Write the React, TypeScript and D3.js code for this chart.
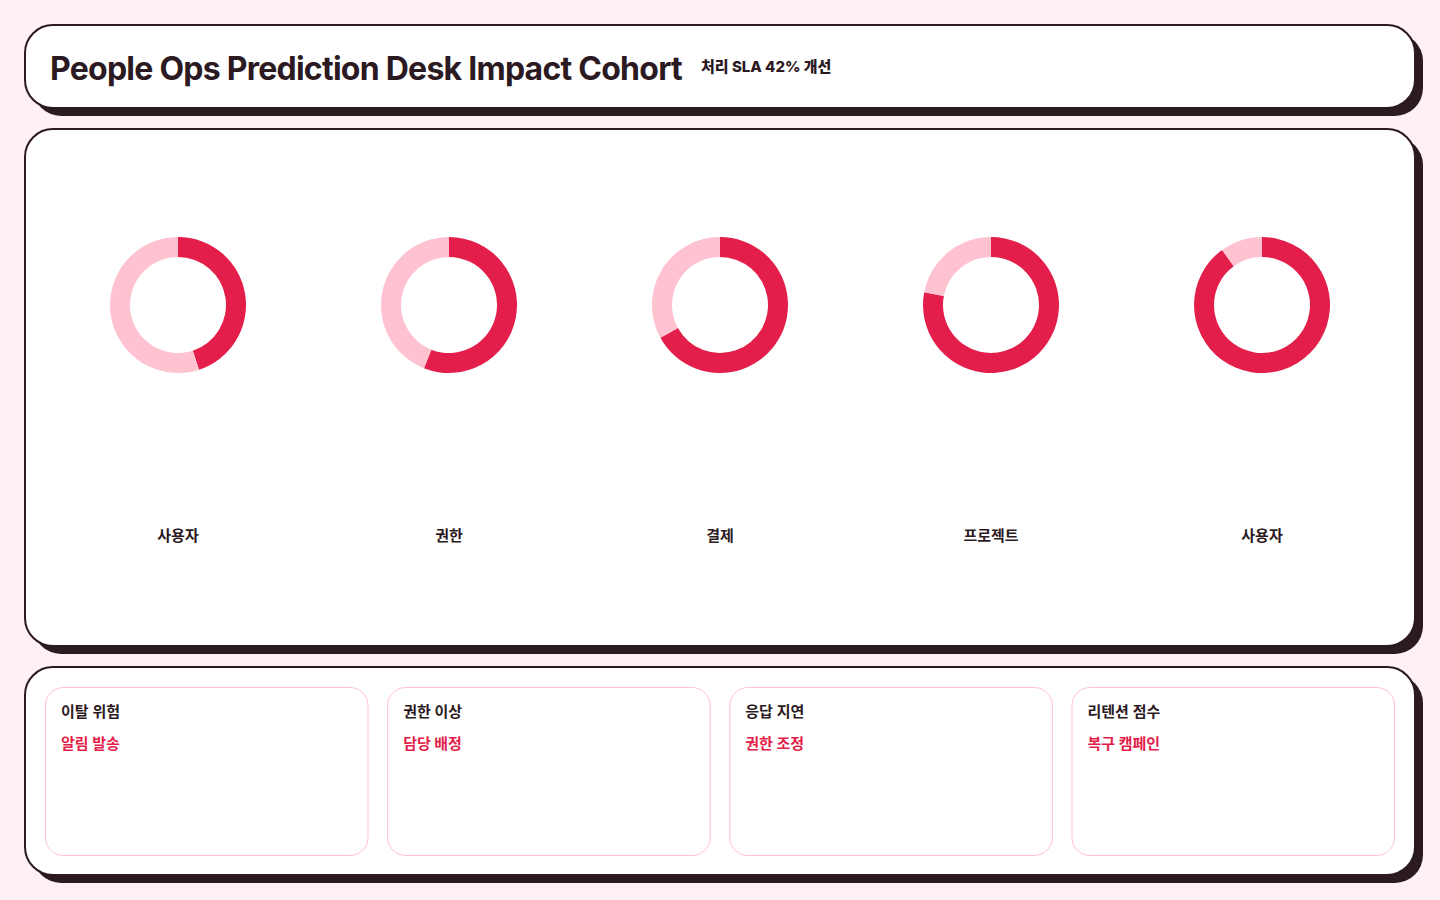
import React from "react";
import * as d3 from "d3";

const title = "People Ops Prediction Desk Impact Cohort";
const subtitle = "처리 SLA 42% 개선";
const donutLabels = ["사용자", "권한", "결제", "프로젝트", "사용자"];
const donutValues = [45, 56, 67, 78, 90];
const cardTitles = ["이탈 위험", "권한 이상", "응답 지연", "리텐션 점수"];
const cardActions = ["알림 발송", "담당 배정", "권한 조정", "복구 캠페인"];

const DARK = "#2c1a23";
const RED = "#e31e4a";
const PINK = "#ffc2d1";
const BG = "#fff0f3";
const FONT = "Inter, 'Noto Sans CJK KR', sans-serif";

function Panel({ x, y, w, h }: { x: number; y: number; w: number; h: number }) {
  return (
    <g>
      <rect x={x + 8} y={y + 8} width={w} height={h} rx={28} fill={DARK} />
      <rect x={x} y={y} width={w} height={h} rx={28} fill="#fff" stroke={DARK} strokeWidth={2} />
    </g>
  );
}

export default function App() {
  const xScale = d3.scalePoint<number>().domain(donutValues.map((_, i) => i)).range([178, 1262]);
  const arc = d3.arc<any>().innerRadius(48).outerRadius(68);
  const pie = d3.pie<number>().sort(null).value((d) => d);
  const cardX = d3.scaleBand<number>().domain(cardTitles.map((_, i) => i)).range([45, 1395]).paddingInner(0.0545);

  return (
    <svg width={1440} height={900} style={{ position: "absolute", left: 0, top: 0, background: BG }} fontFamily={FONT}>
      <rect x={0} y={0} width={1440} height={900} fill={BG} />
      <Panel x={25} y={25} w={1390} h={83} />
      <text x={50} y={80} fontSize={32} fontWeight={700} fill={DARK} letterSpacing={-0.75}>{title}</text>
      <text x={701} y={72} fontSize={15} fontWeight={800} fill={DARK}>{subtitle}</text>

      <Panel x={25} y={129} w={1390} h={517} />
      {donutValues.map((v, i) => {
        const arcs = pie([v, 100 - v]);
        const cx = xScale(i)!;
        return (
          <g key={i} transform={`translate(${cx},305)`}>
            {arcs.map((a, j) => (
              <path key={j} d={arc(a)!} fill={j === 0 ? RED : PINK} />
            ))}
            <text y={236} textAnchor="middle" fontSize={15} fontWeight={700} fill={DARK}>{donutLabels[i]}</text>
          </g>
        );
      })}

      <Panel x={25} y={667} w={1390} h={208} />
      {cardTitles.map((t, i) => {
        const x = cardX(i)!;
        return (
          <g key={i}>
            <rect x={x + 0.5} y={687.5} width={cardX.bandwidth() - 1} height={168} rx={18} fill="#fff" stroke={PINK} strokeWidth={1} />
            <text x={x + 16} y={717} fontSize={15} fontWeight={600} fill={DARK}>{t}</text>
            <text x={x + 16} y={749} fontSize={15} fontWeight={700} fill={RED}>{cardActions[i]}</text>
          </g>
        );
      })}
    </svg>
  );
}
